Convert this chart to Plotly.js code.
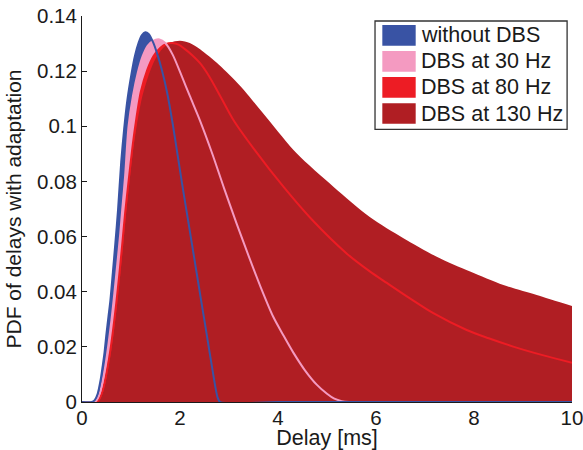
<!DOCTYPE html>
<html>
<head>
<meta charset="utf-8">
<script src="https://cdn.plot.ly/plotly-3.0.1.min.js"></script>
<style>html,body{margin:0;padding:0;background:#fff;}#chart{width:583px;height:450px;}</style>
</head>
<body>
<div id="chart"></div>
<script>
// ---- data ----
var seriesNames = ["without DBS", "DBS at 30 Hz", "DBS at 80 Hz", "DBS at 130 Hz"];
var seriesColors = ["#3953a4", "#f49ac1", "#ed1c24", "#b01e23"];

var xBlue = [0, 0.2, 0.26, 0.32, 0.38, 0.42, 0.46, 0.5, 0.54, 0.58, 0.63, 0.68, 0.735, 0.8, 0.86, 0.93, 1.01, 1.08, 1.16, 1.22, 1.29, 1.36, 1.45, 1.54, 1.63, 1.74, 1.85, 1.93, 2.04, 2.14, 2.24, 2.34, 2.45, 2.55, 2.66, 2.77, 2.82, 4, 6, 8, 10];
var yBlue = [0, 0, 0.0007, 0.003, 0.008, 0.0128, 0.018, 0.0249, 0.031, 0.037, 0.047, 0.0575, 0.0696, 0.087, 0.099, 0.110, 0.119, 0.1255, 0.1305, 0.1330, 0.1341, 0.1335, 0.1305, 0.126, 0.1204, 0.112, 0.101, 0.092, 0.0795, 0.0686, 0.0577, 0.0468, 0.0348, 0.0240, 0.012, 0.0015, 0, 0, 0, 0, 0];

var xPink = [0, 0.25, 0.3, 0.36, 0.42, 0.48, 0.54, 0.6, 0.66, 0.72, 0.78, 0.82, 0.88, 0.95, 1.04, 1.14, 1.24, 1.34, 1.45, 1.58, 1.7, 1.85, 2.04, 2.2, 2.41, 2.65, 2.9, 3.15, 3.4, 3.65, 3.9, 4.1, 4.31, 4.55, 4.79, 5.0, 5.15, 5.3, 5.45, 6, 8, 10];
var yPink = [0, 0, 0.0007, 0.003, 0.0075, 0.0135, 0.021, 0.0295, 0.0394, 0.050, 0.061, 0.0696, 0.082, 0.100, 0.111, 0.1195, 0.1255, 0.1292, 0.1310, 0.1315, 0.1302, 0.126, 0.118, 0.111, 0.102, 0.0905, 0.0775, 0.065, 0.053, 0.0415, 0.031, 0.0245, 0.018, 0.0115, 0.0063, 0.003, 0.0012, 0.0003, 0, 0, 0, 0];

var xRed = [0, 0.28, 0.34, 0.4, 0.46, 0.52, 0.58, 0.64, 0.7, 0.76, 0.82, 0.88, 0.95, 1.02, 1.09, 1.2, 1.33, 1.46, 1.6, 1.72, 1.84, 1.97, 2.1, 2.25, 2.41, 2.6, 2.82, 3.09, 3.5, 4.11, 4.7, 5.4, 5.88, 6.22, 6.7, 7.17, 7.85, 8.3, 8.8, 9.4, 10];
var yRed = [0, 0, 0.0007, 0.003, 0.007, 0.0125, 0.019, 0.027, 0.036, 0.046, 0.057, 0.0685, 0.080, 0.091, 0.1005, 0.1125, 0.1204, 0.1255, 0.1285, 0.1299, 0.1302, 0.1296, 0.128, 0.1258, 0.1229, 0.118, 0.111, 0.1023, 0.092, 0.0781, 0.066, 0.0539, 0.0473, 0.0432, 0.0375, 0.0322, 0.0261, 0.0231, 0.0201, 0.017, 0.01425];

var xDark = [0, 0.3, 0.36, 0.42, 0.48, 0.54, 0.6, 0.66, 0.72, 0.78, 0.84, 0.9, 0.97, 1.04, 1.12, 1.22, 1.35, 1.5, 1.65, 1.8, 2.0, 2.2, 2.41, 2.8, 3.22, 3.8, 4.38, 5.13, 5.88, 6.56, 7.24, 7.92, 8.6, 9.28, 10];
var yDark = [0, 0, 0.0007, 0.003, 0.007, 0.0125, 0.019, 0.027, 0.036, 0.046, 0.057, 0.0685, 0.080, 0.091, 0.1005, 0.110, 0.118, 0.1245, 0.1283, 0.1303, 0.1310, 0.1302, 0.1279, 0.1222, 0.1148, 0.1025, 0.0902, 0.0781, 0.067, 0.0594, 0.0527, 0.0473, 0.0424, 0.0388, 0.0348];

var xTickVals = [0, 2, 4, 6, 8, 10];
var xTickText = ["0", "2", "4", "6", "8", "10"];
var yTickVals = [0, 0.02, 0.04, 0.06, 0.08, 0.1, 0.12, 0.14];
var yTickText = ["0", "0.02", "0.04", "0.06", "0.08", "0.1", "0.12", "0.14"];

var xTitle = "Delay [ms]";
var yTitle = "PDF of delays with adaptation";

// ---- build traces ----
var xs = [xBlue, xPink, xRed, xDark];
var ys = [yBlue, yPink, yRed, yDark];
var traces = [];
for (var i = 0; i < 4; i++) {
  traces.push({
    type: "scatter", mode: "lines", x: xs[i], y: ys[i], name: seriesNames[i],
    fill: "tozeroy", fillcolor: seriesColors[i],
    line: {width: 0, color: seriesColors[i], shape: "spline", smoothing: 0.8},
    showlegend: false, hoverinfo: "skip"
  });
}
// outlines on top (red, pink, blue)
[2, 1, 0].forEach(function (i) {
  traces.push({
    type: "scatter", mode: "lines", x: xs[i], y: ys[i], name: seriesNames[i],
    line: {width: 2, color: seriesColors[i], shape: "spline", smoothing: 0.8},
    showlegend: false, hoverinfo: "skip"
  });
});

// ---- manual legend (paper coordinates) ----
var shapes = [];
var annotations = [];
shapes.push({type: "rect", xref: "paper", yref: "paper", x0: 0.598, x1: 0.990, y0: 0.7065, y1: 0.987,
  line: {color: "#333333", width: 1.3}, fillcolor: "#ffffff", layer: "above"});
var rowTop = 0.9767, rowH = 0.0536, rowStep = 0.0675;
for (var k = 0; k < 4; k++) {
  var yt = rowTop - k * rowStep;
  shapes.push({type: "rect", xref: "paper", yref: "paper", x0: 0.6129, x1: 0.681, y0: yt - rowH, y1: yt,
    line: {width: 0}, fillcolor: seriesColors[k], layer: "above"});
  annotations.push({xref: "paper", yref: "paper", x: 0.6884, y: yt - rowH / 2, xanchor: "left", yanchor: "middle",
    text: seriesNames[k], showarrow: false, font: {size: 21.5, color: "#1a1a1a"}});
}

var layout = {
  width: 583, height: 450,
  margin: {l: 82, r: 11, t: 16, b: 48, pad: 0},
  paper_bgcolor: "#ffffff", plot_bgcolor: "#ffffff",
  font: {family: "Liberation Sans, Arial, Helvetica, sans-serif", size: 20, color: "#1a1a1a"},
  showlegend: false,
  xaxis: {
    range: [0, 10], tickvals: xTickVals, ticktext: xTickText,
    ticks: "inside", ticklen: 5, tickcolor: "#1a1a1a", tickwidth: 1,
    showline: true, linecolor: "#1a1a1a", linewidth: 1, mirror: false,
    showgrid: false, zeroline: false, layer: "below traces",
    tickfont: {size: 20.5}, ticklabeloverflow: "allow", ticklabelstandoff: -3, fixedrange: true,
    title: {text: xTitle, font: {size: 21.5}, standoff: 4}
  },
  yaxis: {
    range: [0, 0.14], tickvals: yTickVals, ticktext: yTickText,
    ticks: "inside", ticklen: 5, tickcolor: "#1a1a1a", tickwidth: 1,
    showline: true, linecolor: "#1a1a1a", linewidth: 1, mirror: false,
    showgrid: false, zeroline: false, layer: "below traces",
    tickfont: {size: 20.5}, ticklabeloverflow: "allow", fixedrange: true,
    title: {text: yTitle, font: {size: 21}, standoff: 9}
  },
  shapes: shapes,
  annotations: annotations
};

Plotly.newPlot("chart", traces, layout, {displayModeBar: false, staticPlot: true});
</script>
</body>
</html>
